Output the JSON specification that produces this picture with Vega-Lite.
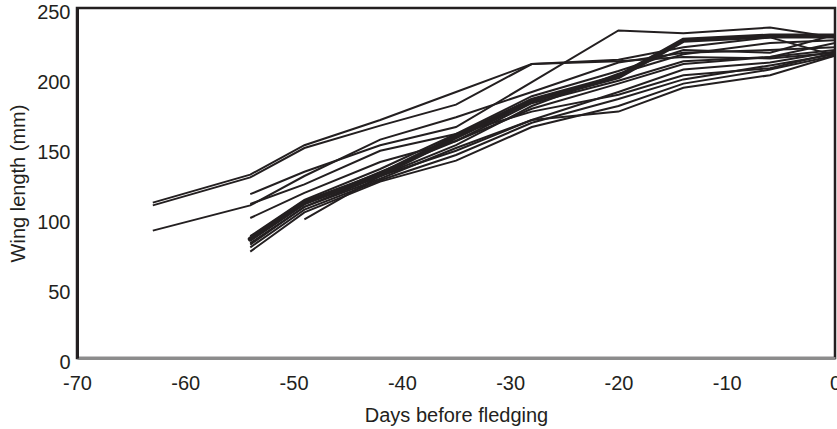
{
  "$schema": "https://vega.github.io/schema/vega-lite/v6.json",
  "width": 758,
  "height": 350,
  "autosize": {"type": "none"},
  "padding": {"left": 77, "top": 8, "right": 2, "bottom": 71},
  "config": {
    "font": "Liberation Sans",
    "view": {"stroke": "#231f20", "strokeWidth": 2.5},
    "axis": {"grid": false, "ticks": false, "labelFontSize": 20, "titleFontSize": 20, "titleFontWeight": "normal", "labelColor": "#231f20", "titleColor": "#231f20", "labelFont": "Liberation Sans", "titleFont": "Liberation Sans"}
  },
  "data": {"values": [
    {"bird": "L1", "day": -63, "wing": 111}, {"bird": "L1", "day": -54, "wing": 131}, {"bird": "L1", "day": -49, "wing": 152}, {"bird": "L1", "day": -42, "wing": 170}, {"bird": "L1", "day": -35, "wing": 190}, {"bird": "L1", "day": -28, "wing": 210}, {"bird": "L1", "day": -20, "wing": 212}, {"bird": "L1", "day": -14, "wing": 215}, {"bird": "L1", "day": -6, "wing": 214}, {"bird": "L1", "day": 0, "wing": 218},
    {"bird": "L2", "day": -63, "wing": 109}, {"bird": "L2", "day": -54, "wing": 129}, {"bird": "L2", "day": -49, "wing": 150}, {"bird": "L2", "day": -42, "wing": 166}, {"bird": "L2", "day": -35, "wing": 181}, {"bird": "L2", "day": -28, "wing": 210}, {"bird": "L2", "day": -20, "wing": 213}, {"bird": "L2", "day": -14, "wing": 222}, {"bird": "L2", "day": -6, "wing": 229}, {"bird": "L2", "day": 0, "wing": 216},
    {"bird": "L3", "day": -63, "wing": 91}, {"bird": "L3", "day": -54, "wing": 109}, {"bird": "L3", "day": -49, "wing": 130}, {"bird": "L3", "day": -42, "wing": 156}, {"bird": "L3", "day": -35, "wing": 172}, {"bird": "L3", "day": -28, "wing": 190}, {"bird": "L3", "day": -20, "wing": 211}, {"bird": "L3", "day": -14, "wing": 218}, {"bird": "L3", "day": -6, "wing": 220}, {"bird": "L3", "day": 0, "wing": 222},
    {"bird": "L4", "day": -54, "wing": 117}, {"bird": "L4", "day": -49, "wing": 133}, {"bird": "L4", "day": -42, "wing": 152}, {"bird": "L4", "day": -35, "wing": 165}, {"bird": "L4", "day": -28, "wing": 197}, {"bird": "L4", "day": -20, "wing": 234}, {"bird": "L4", "day": -14, "wing": 232}, {"bird": "L4", "day": -6, "wing": 236}, {"bird": "L4", "day": 0, "wing": 229},
    {"bird": "L5", "day": -54, "wing": 110}, {"bird": "L5", "day": -49, "wing": 124}, {"bird": "L5", "day": -42, "wing": 148}, {"bird": "L5", "day": -35, "wing": 160}, {"bird": "L5", "day": -28, "wing": 187}, {"bird": "L5", "day": -20, "wing": 205}, {"bird": "L5", "day": -14, "wing": 220}, {"bird": "L5", "day": -6, "wing": 218}, {"bird": "L5", "day": 0, "wing": 231},
    {"bird": "L6", "day": -54, "wing": 100}, {"bird": "L6", "day": -49, "wing": 118}, {"bird": "L6", "day": -42, "wing": 140}, {"bird": "L6", "day": -35, "wing": 155}, {"bird": "L6", "day": -28, "wing": 182}, {"bird": "L6", "day": -20, "wing": 198}, {"bird": "L6", "day": -14, "wing": 212}, {"bird": "L6", "day": -6, "wing": 215}, {"bird": "L6", "day": 0, "wing": 225},
    {"bird": "L7", "day": -54, "wing": 85}, {"bird": "L7", "day": -49, "wing": 111}, {"bird": "L7", "day": -42, "wing": 131}, {"bird": "L7", "day": -35, "wing": 158}, {"bird": "L7", "day": -28, "wing": 184}, {"bird": "L7", "day": -20, "wing": 201}, {"bird": "L7", "day": -14, "wing": 227}, {"bird": "L7", "day": -6, "wing": 230}, {"bird": "L7", "day": 0, "wing": 230},
    {"bird": "L8", "day": -54, "wing": 82}, {"bird": "L8", "day": -49, "wing": 108}, {"bird": "L8", "day": -42, "wing": 128}, {"bird": "L8", "day": -35, "wing": 150}, {"bird": "L8", "day": -28, "wing": 170}, {"bird": "L8", "day": -20, "wing": 190}, {"bird": "L8", "day": -14, "wing": 206}, {"bird": "L8", "day": -6, "wing": 211}, {"bird": "L8", "day": 0, "wing": 219},
    {"bird": "L9", "day": -54, "wing": 79}, {"bird": "L9", "day": -49, "wing": 106}, {"bird": "L9", "day": -42, "wing": 127}, {"bird": "L9", "day": -35, "wing": 145}, {"bird": "L9", "day": -28, "wing": 168}, {"bird": "L9", "day": -20, "wing": 185}, {"bird": "L9", "day": -14, "wing": 199}, {"bird": "L9", "day": -6, "wing": 209}, {"bird": "L9", "day": 0, "wing": 217},
    {"bird": "L10", "day": -54, "wing": 76}, {"bird": "L10", "day": -49, "wing": 104}, {"bird": "L10", "day": -42, "wing": 126}, {"bird": "L10", "day": -35, "wing": 141}, {"bird": "L10", "day": -28, "wing": 165}, {"bird": "L10", "day": -20, "wing": 180}, {"bird": "L10", "day": -14, "wing": 196}, {"bird": "L10", "day": -6, "wing": 206}, {"bird": "L10", "day": 0, "wing": 216},
    {"bird": "L11", "day": -49, "wing": 99}, {"bird": "L11", "day": -42, "wing": 130}, {"bird": "L11", "day": -35, "wing": 148}, {"bird": "L11", "day": -28, "wing": 170}, {"bird": "L11", "day": -20, "wing": 176}, {"bird": "L11", "day": -14, "wing": 193}, {"bird": "L11", "day": -6, "wing": 202}, {"bird": "L11", "day": 0, "wing": 216},
    {"bird": "L12", "day": -54, "wing": 87}, {"bird": "L12", "day": -49, "wing": 113}, {"bird": "L12", "day": -42, "wing": 135}, {"bird": "L12", "day": -35, "wing": 160}, {"bird": "L12", "day": -28, "wing": 176}, {"bird": "L12", "day": -20, "wing": 188}, {"bird": "L12", "day": -14, "wing": 202}, {"bird": "L12", "day": -6, "wing": 207}, {"bird": "L12", "day": 0, "wing": 218},
    {"bird": "L13", "day": -54, "wing": 84}, {"bird": "L13", "day": -49, "wing": 110}, {"bird": "L13", "day": -42, "wing": 133}, {"bird": "L13", "day": -35, "wing": 155}, {"bird": "L13", "day": -28, "wing": 178}, {"bird": "L13", "day": -20, "wing": 196}, {"bird": "L13", "day": -14, "wing": 210}, {"bird": "L13", "day": -6, "wing": 215}, {"bird": "L13", "day": 0, "wing": 220},
    {"bird": "L14", "day": -54, "wing": 81}, {"bird": "L14", "day": -49, "wing": 108}, {"bird": "L14", "day": -42, "wing": 130}, {"bird": "L14", "day": -35, "wing": 152}, {"bird": "L14", "day": -28, "wing": 180}, {"bird": "L14", "day": -20, "wing": 203}, {"bird": "L14", "day": -14, "wing": 217}, {"bird": "L14", "day": -6, "wing": 225}, {"bird": "L14", "day": 0, "wing": 227}
  ]},
  "encoding": {
    "x": {"field": "day", "type": "quantitative", "scale": {"domain": [-70, 0], "nice": false}, "axis": {"title": "Days before fledging", "values": [-70, -60, -50, -40, -30, -20, -10, 0], "labelExpr": "datum.value + ''", "labelFlush": false, "labelPadding": 15, "titlePadding": 12, "domainColor": "#8c8c8c", "domainWidth": 3}},
    "y": {"field": "wing", "type": "quantitative", "scale": {"domain": [0, 250], "nice": false}, "axis": {"title": "Wing length (mm)", "values": [0, 50, 100, 150, 200, 250], "labelPadding": 7, "labelOffset": 4, "labelFlush": false, "titlePadding": 8, "domainColor": "#231f20", "domainWidth": 3}},
    "detail": {"field": "bird"}
  },
  "layer": [
    {"mark": {"type": "line", "color": "#231f20", "strokeWidth": 2, "clip": true}},
    {"transform": [{"filter": "datum.bird === 'L7'"}], "mark": {"type": "line", "color": "#231f20", "strokeWidth": 5, "clip": true, "strokeCap": "round"}}
  ]
}
